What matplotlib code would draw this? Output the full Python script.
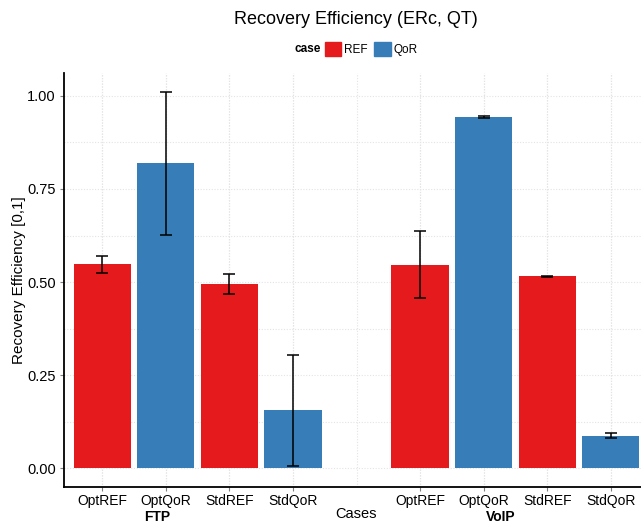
import numpy as np
import matplotlib
matplotlib.use("Agg")
import matplotlib.pyplot as plt
from matplotlib.patches import Patch

plt.rcParams['font.family'] = ['Liberation Sans', 'DejaVu Sans']

cases = ["OptREF", "OptQoR", "StdREF", "StdQoR"]
case_type = ["REF", "QoR", "REF", "QoR"]

ftp_mean = [0.548, 0.819, 0.496, 0.156]
ftp_lo = [0.525, 0.626, 0.468, 0.007]
ftp_hi = [0.569, 1.011, 0.522, 0.304]

voip_mean = [0.547, 0.944, 0.515, 0.086]
voip_lo = [0.457, 0.942, 0.513, 0.080]
voip_hi = [0.637, 0.946, 0.517, 0.094]

COLORS = {"REF": "#E41A1C", "QoR": "#377EB8"}

fig = plt.figure(figsize=(6.41, 5.23), dpi=100)
ax = fig.add_axes([64 / 641, 36 / 523, 585 / 641, 414 / 523])

# FTP on slots 0-3, VoIP on slots 5-8, slot 4 left empty
groups = [(0, ftp_mean, ftp_lo, ftp_hi), (5, voip_mean, voip_lo, voip_hi)]
for start, mean, lo, hi in groups:
    x = np.arange(len(cases)) + start
    cols = [COLORS[t] for t in case_type]
    ax.bar(x, mean, width=0.9, color=cols, zorder=2)
    m = np.array(mean)
    yerr = [m - np.array(lo), np.array(hi) - m]
    ax.errorbar(x, m, yerr=yerr, fmt="none", ecolor="black", elinewidth=1.1,
                capsize=4, capthick=1.1, zorder=3)

ax.set_xlim(-0.6, 8.6)
ax.set_ylim(-0.0506, 1.0616)

tick_pos = [0, 1, 2, 3, 5, 6, 7, 8]
ax.set_xticks(tick_pos)
ax.set_xticklabels(cases + cases, fontsize=10)
ax.set_xticks(np.arange(9) + 0.0001, minor=True)
ax.set_yticks([0, 0.25, 0.5, 0.75, 1.0])
ax.set_yticklabels(["0.00", "0.25", "0.50", "0.75", "1.00"], fontsize=10.5)
ax.set_yticks([0.125, 0.375, 0.625, 0.875], minor=True)

ax.grid(True, which="both", color="#e4e4e4", linestyle=(0, (1, 1.5)), linewidth=0.8, zorder=0)
ax.tick_params(axis="both", which="major", color="#7f7f7f", length=3, width=0.8,
               labelcolor="black", pad=3)
ax.tick_params(axis="x", which="major", pad=2)
ax.tick_params(axis="both", which="minor", length=0)

for side in ["top", "right"]:
    ax.spines[side].set_visible(False)
for side in ["left", "bottom"]:
    ax.spines[side].set_linewidth(1.3)
    ax.spines[side].set_color("black")

ax.set_ylabel("Recovery Efficiency [0,1]", fontsize=11, labelpad=1)

fig.text(157 / 641, 1 - 517 / 523, "FTP", ha="center", va="center",
         fontsize=10, fontweight="bold")
fig.text(501 / 641, 1 - 517 / 523, "VoIP", ha="center", va="center",
         fontsize=10, fontweight="bold")
fig.text(356 / 641, 1 - 514 / 523, "Cases", ha="center", va="center", fontsize=10.5)

fig.text(356 / 641, 1 - 19 / 523, "Recovery Efficiency (ERc, QT)", ha="center",
         va="center", fontsize=13)

handles = [Patch(color=COLORS["REF"], label="REF"), Patch(color=COLORS["QoR"], label="QoR")]
leg = fig.legend(handles=handles, loc="center", bbox_to_anchor=(371 / 641, 1 - 49 / 523),
                 ncol=2, frameon=False, fontsize=8.5, handlelength=1.4, handleheight=1.4,
                 handletextpad=0.2, columnspacing=0.6, borderpad=0)
fig.text(321 / 641, 1 - 49 / 523, "case", ha="right", va="center",
         fontsize=8.5, fontweight="bold")

fig.savefig("out.png", dpi=100)
